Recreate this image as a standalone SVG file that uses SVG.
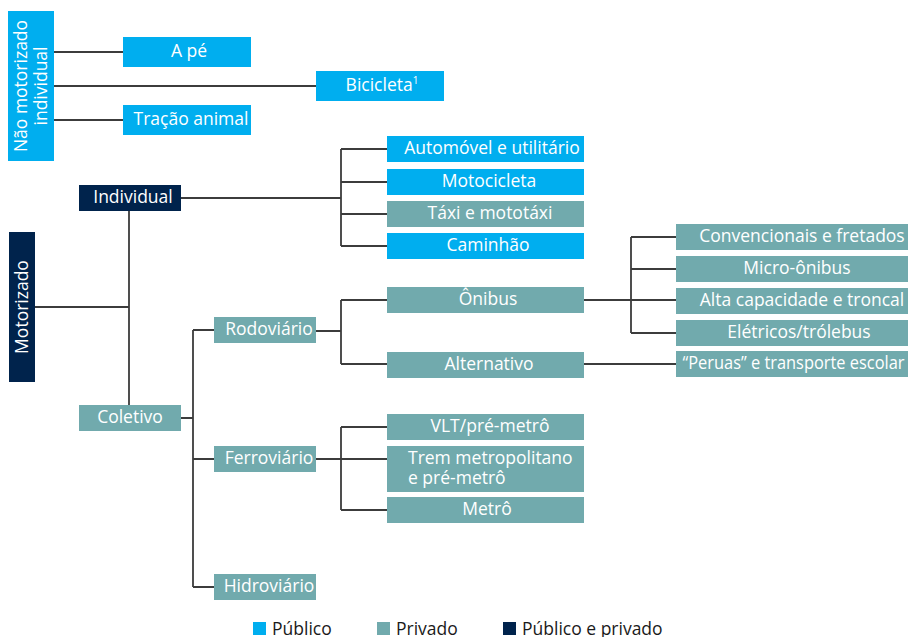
<svg xmlns="http://www.w3.org/2000/svg" width="908" height="637" viewBox="0 0 908 637">
  <style>
    .pub { fill: #00AEEF; }
    .pri { fill: #71AAAD; }
    .mix { fill: #00234C; }
    .lbl { font-family: "Open Sans", "Noto Sans", "DejaVu Sans", sans-serif; font-size: 17.5px; fill: #ffffff; text-anchor: middle; }
    .left { text-anchor: start; }
    .leg { font-family: "Open Sans", "Noto Sans", "DejaVu Sans", sans-serif; font-size: 17.5px; fill: #1a1a1a; }
    .conn { fill: none; stroke: #3c3c3c; stroke-width: 1.8; }
  </style>

  <!-- connectors -->
  <g id="connectors" class="conn">
    <!-- non-motorised branch -->
    <path d="M54 52H123M54 86H316M54 120H123"/>
    <!-- motorised trunk -->
    <path d="M35 307H129M129 211V405"/>
    <!-- individual -->
    <path d="M181 198H341M341 149V246M341 149H387M341 182H387M341 214H387M341 246H387"/>
    <!-- collective -->
    <path d="M181 418H193M193 330V587M193 330H214M193 459H214M193 587H214"/>
    <!-- road -->
    <path d="M316 331H341M341 300V364M341 300H387M341 364H387"/>
    <!-- bus -->
    <path d="M584 300H676M631 237V333M631 237H676M631 269H676M631 333H676"/>
    <path d="M584 364H676"/>
    <!-- rail -->
    <path d="M316 459H387M341 427V510M341 427H387M341 510H387"/>
  </g>

  <!-- non-motorised individual -->
  <g id="nao-motorizado">
    <rect class="pub" x="8" y="11" width="46" height="150"/>
    <text class="lbl" transform="translate(27 86) rotate(-90)">Não motorizado</text>
    <text class="lbl" transform="translate(47 86) rotate(-90)">individual</text>
  </g>
  <g id="a-pe">
    <rect class="pub" x="123" y="37" width="128" height="30"/>
    <text class="lbl" x="189" y="57">A pé</text>
  </g>
  <g id="bicicleta">
    <rect class="pub" x="316" y="71" width="128" height="30"/>
    <text class="lbl" x="382" y="91">Bicicleta<tspan font-size="10" dy="-7">1</tspan></text>
  </g>
  <g id="tracao-animal">
    <rect class="pub" x="123" y="105" width="128" height="30"/>
    <text class="lbl" x="191" y="125">Tração animal</text>
  </g>

  <!-- motorised -->
  <g id="motorizado">
    <rect class="mix" x="9" y="232" width="26" height="150"/>
    <text class="lbl" transform="translate(28 307) rotate(-90)">Motorizado</text>
  </g>
  <g id="individual">
    <rect class="mix" x="79" y="185" width="102" height="26"/>
    <text class="lbl" x="133" y="203">Individual</text>
  </g>
  <g id="coletivo">
    <rect class="pri" x="79" y="405" width="102" height="26"/>
    <text class="lbl" x="130" y="423">Coletivo</text>
  </g>

  <!-- individual motorised modes -->
  <g id="automovel">
    <rect class="pub" x="387" y="136" width="197" height="26"/>
    <text class="lbl" x="492" y="154">Automóvel e utilitário</text>
  </g>
  <g id="motocicleta">
    <rect class="pub" x="387" y="169" width="197" height="26"/>
    <text class="lbl" x="489" y="187">Motocicleta</text>
  </g>
  <g id="taxi">
    <rect class="pri" x="387" y="201" width="197" height="26"/>
    <text class="lbl" x="490" y="219">Táxi e mototáxi</text>
  </g>
  <g id="caminhao">
    <rect class="pub" x="387" y="233" width="197" height="26"/>
    <text class="lbl" x="488" y="251">Caminhão</text>
  </g>

  <!-- collective modes -->
  <g id="rodoviario">
    <rect class="pri" x="214" y="317" width="102" height="26"/>
    <text class="lbl" x="269" y="335">Rodoviário</text>
  </g>
  <g id="ferroviario">
    <rect class="pri" x="214" y="446" width="102" height="26"/>
    <text class="lbl" x="269" y="464">Ferroviário</text>
  </g>
  <g id="hidroviario">
    <rect class="pri" x="214" y="574" width="102" height="26"/>
    <text class="lbl" x="269" y="592">Hidroviário</text>
  </g>

  <!-- road -->
  <g id="onibus">
    <rect class="pri" x="387" y="287" width="197" height="26"/>
    <text class="lbl" x="488" y="305">Ônibus</text>
  </g>
  <g id="alternativo">
    <rect class="pri" x="387" y="352" width="197" height="26"/>
    <text class="lbl" x="489" y="370">Alternativo</text>
  </g>
  <g id="convencionais">
    <rect class="pri" x="676" y="224" width="232" height="26"/>
    <text class="lbl" x="802" y="242">Convencionais e fretados</text>
  </g>
  <g id="micro-onibus">
    <rect class="pri" x="676" y="256" width="232" height="26"/>
    <text class="lbl" x="797" y="274">Micro-ônibus</text>
  </g>
  <g id="alta-capacidade">
    <rect class="pri" x="676" y="288" width="232" height="26"/>
    <text class="lbl" x="802" y="306">Alta capacidade e troncal</text>
  </g>
  <g id="eletricos">
    <rect class="pri" x="676" y="320" width="232" height="26"/>
    <text class="lbl" x="799" y="338">Elétricos/trólebus</text>
  </g>
  <g id="peruas">
    <rect class="pri" x="676" y="351" width="232" height="26"/>
    <text class="lbl" x="793.5" y="369" textLength="222" lengthAdjust="spacingAndGlyphs">“Peruas” e transporte escolar</text>
  </g>

  <!-- rail -->
  <g id="vlt">
    <rect class="pri" x="387" y="414" width="197" height="26"/>
    <text class="lbl" x="490" y="432">VLT/pré-metrô</text>
  </g>
  <g id="trem">
    <rect class="pri" x="387" y="446" width="197" height="46"/>
    <text class="lbl left" x="408" y="464">Trem metropolitano<tspan x="408" dy="20">e pré-metrô</tspan></text>
  </g>
  <g id="metro">
    <rect class="pri" x="387" y="497" width="197" height="26"/>
    <text class="lbl" x="487" y="515">Metrô</text>
  </g>

  <!-- legend -->
  <g id="legenda">
    <rect class="pub" x="253" y="622" width="13" height="13"/>
    <text class="leg" x="272" y="635">Público</text>
    <rect class="pri" x="377" y="622" width="13" height="13"/>
    <text class="leg" x="396" y="635">Privado</text>
    <rect class="mix" x="503" y="622" width="13" height="13"/>
    <text class="leg" x="522" y="635">Público e privado</text>
  </g>
</svg>
